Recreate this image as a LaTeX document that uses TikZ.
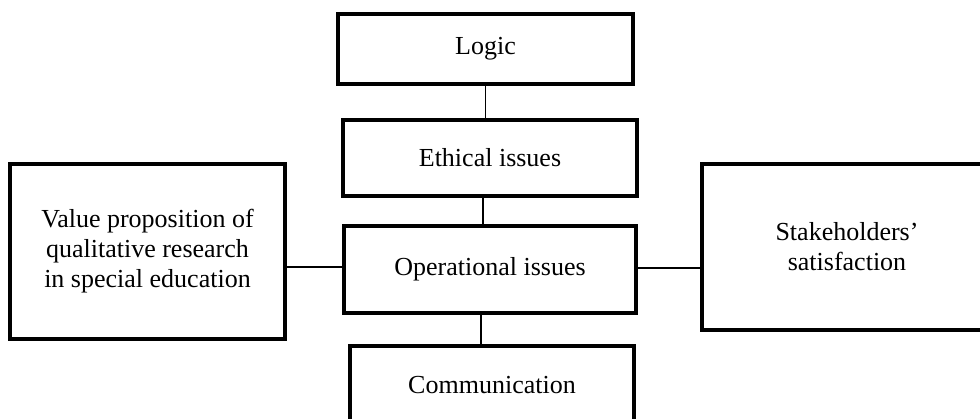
\documentclass[tikz,border=0pt]{standalone}
\usepackage{fontspec}
\setmainfont{Liberation Serif}
\begin{document}
\begin{tikzpicture}[x=1pt,y=-1pt,
  box/.style={draw=black,line width=4pt,inner sep=0pt,align=center,
    font=\fontsize{26}{30}\selectfont},
  link/.style={draw=black,line width=1.5pt}]
\useasboundingbox (0,0) rectangle (980,418);
\clip (0,0) rectangle (980,418);
\node[box,minimum width=295pt,minimum height=70pt] (logic) at (485.5,49) {Logic};
\node[box,minimum width=294pt,minimum height=76pt] (eth) at (490,157.5) {Ethical issues};
\node[box,minimum width=292pt,minimum height=87pt] (op) at (490,269.5) {Operational issues};
\node[box,minimum width=284pt,minimum height=79pt] (com) at (492,385.5) {Communication};
\node[box,minimum width=275pt,minimum height=175pt] (val) at (147.5,251.5) {Value proposition of\\qualitative research\\in special education};
\node[box,minimum width=290pt,minimum height=166pt] (stk) at (847,247) {Stakeholders'\\satisfaction};
\draw[link] (logic.south) -- (logic.south |- eth.north);
\draw[link] ([xshift=-7pt]eth.south) -- ([xshift=-7pt]eth.south |- op.north);
\draw[link] ([xshift=-9pt]op.south) -- ([xshift=-9pt]op.south |- com.north);
\draw[link] ([yshift=2.5pt]op.west) -- ([yshift=2.5pt]op.west -| val.east);
\draw[link] ([yshift=1.5pt]op.east) -- ([yshift=1.5pt]op.east -| stk.west);
\end{tikzpicture}
\end{document}
